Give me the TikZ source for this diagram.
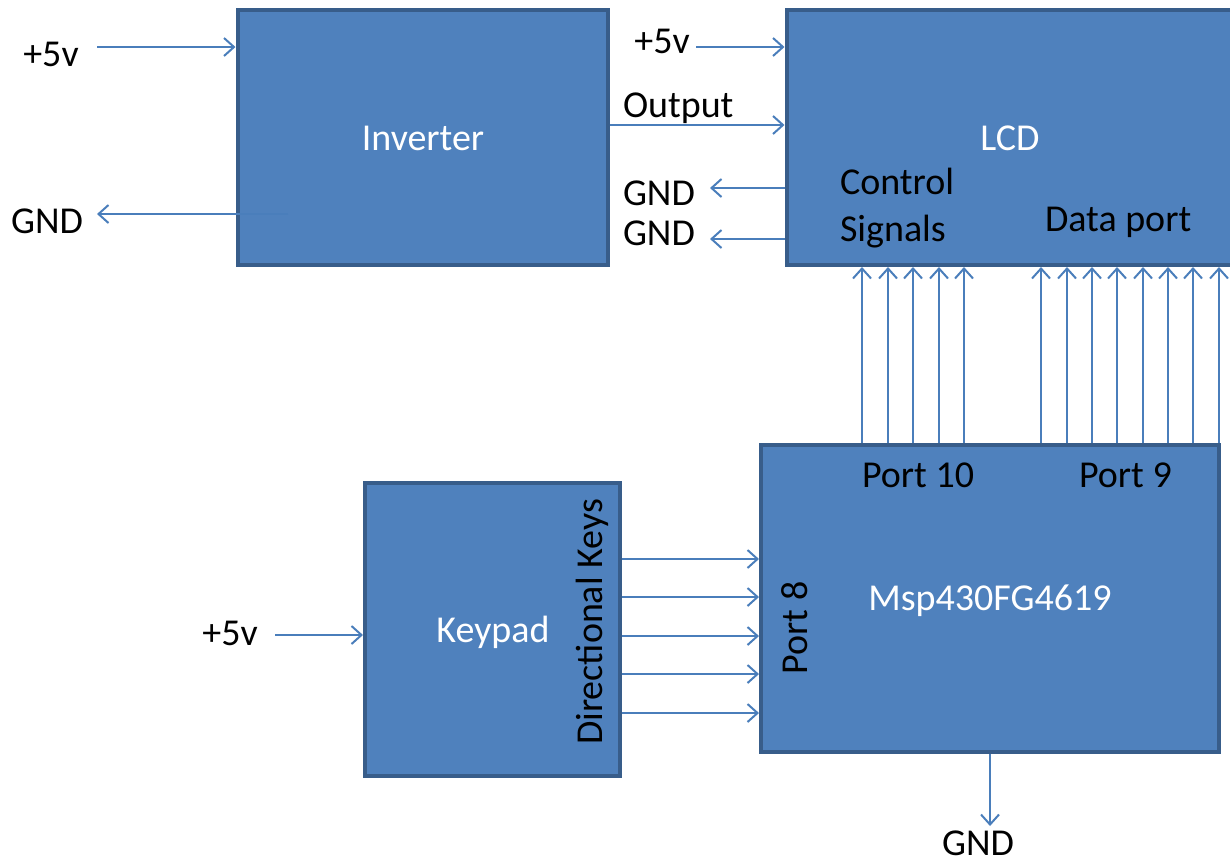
\documentclass[tikz,border=0pt]{standalone}
\usepackage{fontspec}
\setmainfont{Carlito}
\usetikzlibrary{arrows.meta}
\definecolor{boxfill}{HTML}{4F81BD}
\definecolor{boxline}{HTML}{385D8A}
\definecolor{wirecol}{HTML}{4A7EBB}

\begin{document}
\begin{tikzpicture}[x=0.5pt,y=-0.5pt,
  every node/.style={font=\fontsize{19}{23}\selectfont, inner sep=0pt, outer sep=0pt},
  block/.style={draw=boxline, fill=boxfill, line width=2pt, outer sep=1pt},
  wire/.style={draw=wirecol, line width=1pt,
    -{Straight Barb[length=5pt,width=9pt,line width=1pt]}},
  lbl/.style={text=black, anchor=base},
  lblw/.style={text=black, anchor=base west},
  inlbl/.style={text=white, anchor=base},
]
\useasboundingbox (0,0) rectangle (1230,863);

% ---- blocks ----
\node[block, minimum width=185.25pt, minimum height=127.75pt] (inv) at (422.75,137.25) {};
\node[block, minimum width=223.75pt, minimum height=127.75pt] (lcd) at (1010.25,137.25) {};
\node[block, minimum width=229pt,    minimum height=153.75pt] (msp) at (990,598.25) {};
\node[block, minimum width=127.5pt,  minimum height=146.5pt]  (kp)  at (492.5,629.5) {};

% ---- block titles ----
\node[inlbl] (invtxt) at (423,150) {Inverter};
\node[inlbl] (lcdtxt) at (1010,150) {LCD};
\node[inlbl] (msptxt) at (990,610) {Msp430FG4619};
\node[inlbl] (kptxt)  at (493,642) {Keypad};

% ---- port labels ----
\node[lblw] (ctl)  at (840,194) {Control};
\node[lblw] (sig)  at (840,241) {Signals};
\node[lblw] (dat)  at (1045,231) {Data port};
\node[lblw] (p10)  at (862,487) {Port 10};
\node[lblw] (p9)   at (1079,487) {Port 9};
\node[text=black, rotate=90] (p8) at (795,628) {Port 8};
\node[text=black, rotate=90] (dk) at (592,622) {Directional Keys};

% ---- supply labels ----
\node[lbl]  (v1)  at (51,66)   {+5v};
\node[lbl]  (g1)  at (47,233)  {GND};
\node[lbl]  (v2)  at (662,53)  {+5v};
\node[lblw] (out) at (623,117) {Output};
\node[lblw] (g2)  at (623,205) {GND};
\node[lblw] (g3)  at (623,245) {GND};
\node[lbl]  (v3)  at (230,645) {+5v};
\node[lbl]  (g4)  at (978,855) {GND};

% ---- wire end points ----
\coordinate (v1e) at (97,47);
\coordinate (g1s) at (288,214);
\coordinate (g1e) at (97,214);
\coordinate (v2e) at (696,47);
\coordinate (outy) at (0,125);
\coordinate (g2e) at (710,188);
\coordinate (g3e) at (710,239);
\coordinate (v3e) at (275,635);
\coordinate (g4e) at (990,826);

% ---- inverter ----
\draw[wire] (v1e) -- (v1e -| inv.west);
\draw[wire] (g1s) -- (g1e);
\draw[wire] (inv.east |- outy) -- (lcd.west |- outy);

% ---- LCD supply ----
\draw[wire] (v2e) -- (v2e -| lcd.west);
\draw[wire] (lcd.west |- g2e) -- (g2e);
\draw[wire] (lcd.west |- g3e) -- (g3e);

% ---- buses from the MSP430 to the LCD ----
\foreach \x in {862,888,913,939,964,1041,1067,1092,1117,1143,1168,1193,1219}
  \draw[wire] (\x,0 |- msp.north) -- (\x,0 |- lcd.south);

% ---- keypad to port 8 ----
\foreach \y in {559,597,636,674,713}
  \draw[wire] (kp.east |- 0,\y) -- (msp.west |- 0,\y);
\draw[wire] (v3e) -- (v3e -| kp.west);

% ---- MSP430 ground ----
\draw[wire] (msp.south) -- (g4e);
\end{tikzpicture}
\end{document}
